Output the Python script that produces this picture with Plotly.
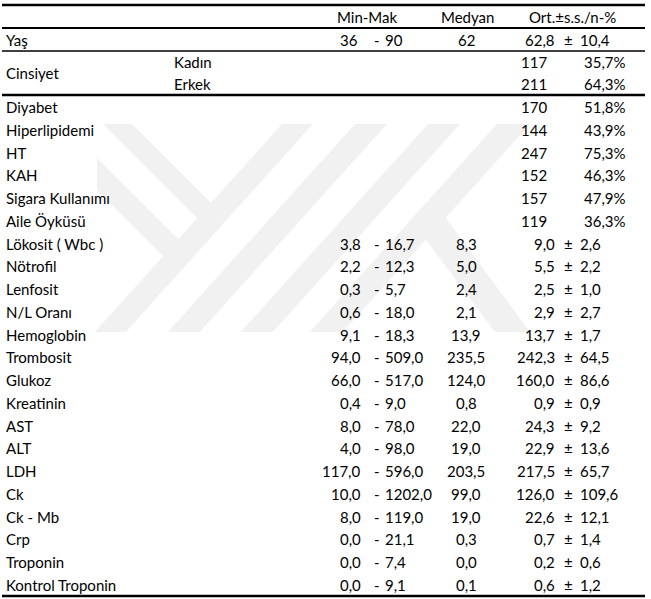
import plotly.graph_objects as go

# ---------------- data ----------------
headers = ["Min-Mak", "Medyan", "Ort.±s.s./n-%"]

age_label = "Yaş"
age_min, age_max, age_median, age_mean, age_sd = 36, 90, 62, 62.8, 10.4

sex_label = "Cinsiyet"
sex_groups = ["Kadın", "Erkek"]
sex_n = [117, 211]
sex_pct = [35.7, 64.3]

cat_labels = ["Diyabet", "Hiperlipidemi", "HT", "KAH", "Sigara Kullanımı", "Aile Öyküsü"]
cat_n = [170, 144, 247, 152, 157, 119]
cat_pct = [51.8, 43.9, 75.3, 46.3, 47.9, 36.3]

cont_labels = ["Lökosit ( Wbc )", "Nötrofil", "Lenfosit", "N/L Oranı", "Hemoglobin",
               "Trombosit", "Glukoz", "Kreatinin", "AST", "ALT", "LDH", "Ck",
               "Ck - Mb", "Crp", "Troponin", "Kontrol Troponin"]
cont_min = [3.8, 2.2, 0.3, 0.6, 9.1, 94.0, 66.0, 0.4, 8.0, 4.0, 117.0, 10.0, 8.0, 0.0, 0.0, 0.0]
cont_max = [16.7, 12.3, 5.7, 18.0, 18.3, 509.0, 517.0, 9.0, 78.0, 98.0, 596.0, 1202.0, 119.0, 21.1, 7.4, 9.1]
cont_median = [8.3, 5.0, 2.4, 2.1, 13.9, 235.5, 124.0, 0.8, 22.0, 19.0, 203.5, 99.0, 19.0, 0.3, 0.0, 0.1]
cont_mean = [9.0, 5.5, 2.5, 2.9, 13.7, 242.3, 160.0, 0.9, 24.3, 22.9, 217.5, 126.0, 22.6, 0.7, 0.2, 0.6]
cont_sd = [2.6, 2.2, 1.0, 2.7, 1.7, 64.5, 86.6, 0.9, 9.2, 13.6, 65.7, 109.6, 12.1, 1.4, 0.6, 1.2]

# ---------------- layout helpers ----------------
W, H = 651, 599
FONT = dict(family="Lato, Carlito, Calibri, sans-serif", size=15, color="#000000")
WM = "#f1f1f1"

X_LABEL = 4
X_SUB = 172
X_MIN_R = 363
X_DASH = 377
X_MAX_L = 383
X_MED = 466
X_MEAN_R = 557
X_PM = 568
X_SD_L = 578
X_N_L = 519
X_PCT_R = 628
X_HDR = [367, 467, 572]

Y_HDR = 17
Y_AGE = 40
Y_SEX = [62, 84]
Y_SEX_LBL = 73
Y_FIRST = 107
ROW_H = 22.76

def dec(v):
    return f"{v:.1f}".replace(".", ",")

annotations = []

def txt(x, y, s, anchor):
    annotations.append(dict(x=x, y=y, xref="x", yref="y", text=s, showarrow=False,
                            xanchor=anchor, yanchor="middle", font=FONT))

for xh, h in zip(X_HDR, headers):
    txt(xh, Y_HDR, h, "center")

# age row
txt(X_LABEL, Y_AGE, age_label, "left")
txt(X_MIN_R - 3, Y_AGE, str(age_min), "right")
txt(X_DASH, Y_AGE, "-", "center")
txt(X_MAX_L, Y_AGE, str(age_max), "left")
txt(X_MED, Y_AGE, str(age_median), "center")
txt(X_MEAN_R, Y_AGE, dec(age_mean), "right")
txt(X_PM, Y_AGE, "±", "center")
txt(X_SD_L, Y_AGE, dec(age_sd), "left")

# sex rows
txt(X_LABEL, Y_SEX_LBL, sex_label, "left")
for y, g, n, p in zip(Y_SEX, sex_groups, sex_n, sex_pct):
    txt(X_SUB, y, g, "left")
    txt(X_N_L, y, str(n), "left")
    txt(X_PCT_R, y, dec(p) + "%", "right")

# categorical rows
for i, (lab, n, p) in enumerate(zip(cat_labels, cat_n, cat_pct)):
    y = Y_FIRST + i * ROW_H
    txt(X_LABEL, y, lab, "left")
    txt(X_N_L, y, str(n), "left")
    txt(X_PCT_R, y, dec(p) + "%", "right")

# continuous rows
off = len(cat_labels)
for j, lab in enumerate(cont_labels):
    y = Y_FIRST + (off + j) * ROW_H
    txt(X_LABEL, y, lab, "left")
    txt(X_MIN_R, y, dec(cont_min[j]), "right")
    txt(X_DASH, y, "-", "center")
    txt(X_MAX_L, y, dec(cont_max[j]), "left")
    txt(X_MED, y, dec(cont_median[j]), "center")
    txt(X_MEAN_R, y, dec(cont_mean[j]), "right")
    txt(X_PM, y, "±", "center")
    txt(X_SD_L, y, dec(cont_sd[j]), "left")

# ---------------- shapes ----------------
shapes = []

def poly(pts):
    d = "M " + " L ".join(f"{x},{y}" for x, y in pts) + " Z"
    shapes.append(dict(type="path", path=d, xref="x", yref="y", fillcolor=WM,
                       line=dict(width=0), layer="below"))

# faint watermark
yt, yb = 124, 332
k = 0.9 * (yb - yt)
for x0, x1 in [(282, 313), (355, 387), (428, 460), (497, 530)]:
    poly([(x0, yt), (x1, yt), (x1 - k, yb), (x0 - k, yb)])
poly([(103, yt), (132, yt), (227, 219), (213.5, 234.5)])
poly([(97, 158), (194.6, 255.6), (163, 256), (97, 190)])
poly([(440, 210), (530, yb), (495, yb), (420, 232)])

def hline(y, w):
    shapes.append(dict(type="line", xref="x", yref="y", x0=2, x1=645, y0=y, y1=y,
                       line=dict(color="#000000", width=w), layer="above"))

hline(5, 2.5)
hline(28, 2)
hline(51, 1.5)
hline(95, 2.5)
hline(596, 2.5)

fig = go.Figure()
fig.add_trace(go.Scatter(x=[0, W], y=[0, H], mode="markers",
                         marker=dict(opacity=0), hoverinfo="skip", showlegend=False))
fig.update_layout(
    width=W, height=H, margin=dict(l=0, r=0, t=0, b=0),
    paper_bgcolor="white", plot_bgcolor="white",
    xaxis=dict(range=[0, W], visible=False, fixedrange=True),
    yaxis=dict(range=[H, 0], visible=False, fixedrange=True),
    shapes=shapes, annotations=annotations, showlegend=False,
)
fig.write_html(
    "out.html",
    config={"displayModeBar": False},
    post_script="document.body.style.margin='0';document.body.style.overflow='hidden';",
)
